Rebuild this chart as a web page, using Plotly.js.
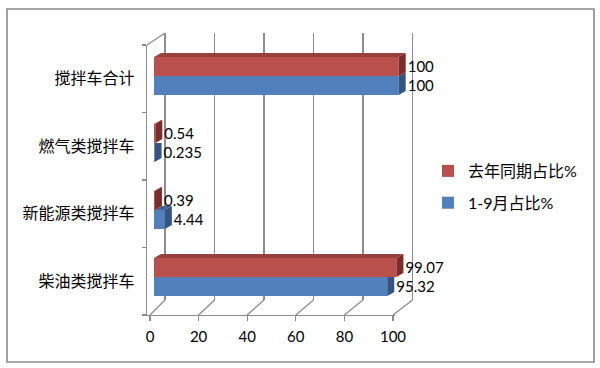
<!DOCTYPE html>
<html>
<head>
<meta charset="utf-8">
<script src="https://cdn.plot.ly/plotly-3.0.1.min.js"></script>
<style>html,body{margin:0;padding:0;background:#fff;}#chart{width:600px;height:368px;}</style>
</head>
<body>
<div id="chart"></div>
<script>
// ---- data (bottom to top) ----
const categories = ['柴油类搅拌车', '新能源类搅拌车', '燃气类搅拌车', '搅拌车合计'];
const lastYearShare = [99.07, 0.39, 0.54, 100];   // 去年同期占比%
const ytdShare = [95.32, 4.44, 0.235, 100];       // 1-9月占比%
const seriesNames = ['去年同期占比%', '1-9月占比%'];
const xTickVals = [0, 20, 40, 60, 80, 100];

// ---- styling / geometry ----
const W = 600, H = 368;
const px = x => x / W;
const py = y => (H - y) / H;
const RED = '#B9504C', RED_TOP = '#97403D', RED_SIDE = '#7A2E2C';
const BLUE = '#5180BD', BLUE_TOP = '#41679A', BLUE_SIDE = '#35547E';
const GRID = '#8C8C8C';
const FONT = 'Lato, "Noto Sans CJK SC", sans-serif';
const BAR_SCALE = 2.447;           // px per unit on bar axis
const CAT_STEP = 67;               // px per category
const BAR_H = 19 / CAT_STEP;       // bar thickness in category units
const DX = 7 / BAR_SCALE;          // 3D depth in x units
const DY = 4 / CAT_STEP;           // 3D depth in y units
const LABEL_PAD = 2 / BAR_SCALE;

const idx = categories.map((_, i) => i);

function polys(list) {
  const xs = [], ys = [];
  list.forEach(p => {
    p.forEach(([a, b]) => { xs.push(a); ys.push(b); });
    xs.push(p[0][0]); ys.push(p[0][1]);
    xs.push(null); ys.push(null);
  });
  return { xs, ys };
}
function faceTrace(list, color) {
  const { xs, ys } = polys(list);
  return { type: 'scatter', x: xs, y: ys, xaxis: 'x2', yaxis: 'y2', mode: 'lines',
    fill: 'toself', fillcolor: color, line: { width: 0, color: color },
    hoverinfo: 'skip', showlegend: false };
}

// faces
const blueTop = [], blueSide = [], redTop = [], redSide = [];
idx.forEach(i => {
  const b = ytdShare[i], r = lastYearShare[i];
  const y0 = i - BAR_H, c = i, y1 = i + BAR_H;
  if (b > r) blueTop.push([[r, c], [b, c], [b + DX, c + DY], [r + DX, c + DY]]);
  if (b < r) blueSide.push([[b, y0], [b + DX, y0 + DY], [b + DX, c], [b, c]]);
  else blueSide.push([[b, y0], [b + DX, y0 + DY], [b + DX, c + DY], [b, c]]);
  redTop.push([[0, y1], [r, y1], [r + DX, y1 + DY], [DX, y1 + DY]]);
  redSide.push([[r, c], [r + DX, c + DY], [r + DX, y1 + DY], [r, y1]]);
});

const traces = [
  { type: 'scatter', x: [], y: [], xaxis: 'x', yaxis: 'y', showlegend: false, hoverinfo: 'skip' },
  { type: 'bar', orientation: 'h', y: idx, x: ytdShare, name: seriesNames[1], xaxis: 'x2', yaxis: 'y2',
    marker: { color: BLUE, line: { width: 0 } }, legendrank: 2, legendgroup: 'b', hoverinfo: 'x' },
  { type: 'bar', orientation: 'h', y: idx, x: lastYearShare, name: seriesNames[0], xaxis: 'x2', yaxis: 'y2',
    marker: { color: RED, line: { width: 0 } }, legendrank: 1, legendgroup: 'a', hoverinfo: 'x' },
  faceTrace(blueTop, BLUE_TOP),
  faceTrace(blueSide, BLUE_SIDE),
  faceTrace(redTop, RED_TOP),
  faceTrace(redSide, RED_SIDE),
  { type: 'scatter', mode: 'text', xaxis: 'x2', yaxis: 'y2', cliponaxis: false,
    x: lastYearShare.map(v => v + DX + LABEL_PAD), y: idx.map(i => i + BAR_H / 2 - 0.025),
    text: lastYearShare.map(String), textposition: 'middle right',
    textfont: { family: FONT, size: 15, color: '#000' }, showlegend: false, hoverinfo: 'skip' },
  { type: 'scatter', mode: 'text', xaxis: 'x2', yaxis: 'y2', cliponaxis: false,
    x: ytdShare.map(v => v + DX + LABEL_PAD), y: idx.map(i => i - BAR_H / 2 - 0.025),
    text: ytdShare.map(String), textposition: 'middle right',
    textfont: { family: FONT, size: 15, color: '#000' }, showlegend: false, hoverinfo: 'skip' },
  { type: 'scatter', mode: 'markers', x: categories.map(() => 0), y: categories, xaxis: 'x3', yaxis: 'y3',
    marker: { opacity: 0 }, showlegend: false, hoverinfo: 'skip' }
];

// floor / wall frame lines (3D box), paper coordinates
const shapes = [];
const line = (x0, y0, x1, y1) => shapes.push({ type: 'line', xref: 'paper', yref: 'paper',
  x0: px(x0), y0: py(y0), x1: px(x1), y1: py(y1), line: { color: GRID, width: 1.3 } });
xTickVals.forEach(v => line(150 + 2.43 * v, 315, 165 + 2.475 * v, 300));
line(147, 45, 165, 33);
shapes.push({ type: 'rect', xref: 'paper', yref: 'paper', x0: px(7), y0: py(362), x1: px(594), y1: py(9),
  line: { color: '#8A8A8A', width: 1.6 }, fillcolor: 'rgba(0,0,0,0)' });

const layout = {
  width: W, height: H, autosize: false,
  margin: { l: 0, r: 0, t: 0, b: 0, pad: 0 },
  paper_bgcolor: '#fff', plot_bgcolor: 'rgba(0,0,0,0)',
  font: { family: FONT, color: '#000' },
  barmode: 'group', bargap: 1 - 2 * BAR_H, bargroupgap: 0,
  xaxis: { domain: [px(165 - 2.475), px(165 + 2.475 * 101)], range: [-1, 101], anchor: 'y',
    showgrid: true, gridcolor: GRID, gridwidth: 1.3, tickvals: xTickVals, showticklabels: false,
    ticks: '', zeroline: false, showline: false, fixedrange: true },
  yaxis: { domain: [py(300), py(33)], range: [0, 1], anchor: 'x', showgrid: false, zeroline: false,
    showticklabels: false, ticks: '', showline: false, fixedrange: true },
  xaxis2: { domain: [px(154), px(154 + BAR_SCALE * 115)], range: [0, 115], anchor: 'y2', visible: false, fixedrange: true },
  yaxis2: { domain: [py(277 + CAT_STEP * 0.5), py(277 - CAT_STEP * 3.5)], range: [-0.5, 3.5], anchor: 'x2',
    visible: false, fixedrange: true },
  xaxis3: { domain: [px(147), px(395)], range: [-3 / 2.43, 100 + 2 / 2.43], anchor: 'y3',
    tickvals: xTickVals, ticks: 'outside', ticklen: 5, tickcolor: GRID, tickwidth: 1.3,
    showline: true, linecolor: GRID, linewidth: 1.3, showgrid: false, zeroline: false,
    tickfont: { family: FONT, size: 15, color: '#000' }, ticklabelstandoff: 3, fixedrange: true },
  yaxis3: { domain: [py(315), py(45)], type: 'category', categoryorder: 'array', categoryarray: categories,
    range: [-0.5, 3.5], anchor: 'x3', tickson: 'boundaries', ticks: 'outside', ticklen: 4,
    tickcolor: GRID, tickwidth: 1.3, showline: true, linecolor: GRID, linewidth: 1.3, showgrid: false,
    tickfont: { family: FONT, size: 16, color: '#000' }, ticklabelstandoff: 8, fixedrange: true },
  legend: { x: px(428), y: py(154), xanchor: 'left', yanchor: 'top', bgcolor: 'rgba(0,0,0,0)',
    traceorder: 'grouped', font: { family: FONT, size: 16, color: '#000' }, tracegroupgap: 8 },
  shapes: shapes
};

Plotly.newPlot('chart', traces, layout, { displayModeBar: false, staticPlot: true });
</script>
</body>
</html>
